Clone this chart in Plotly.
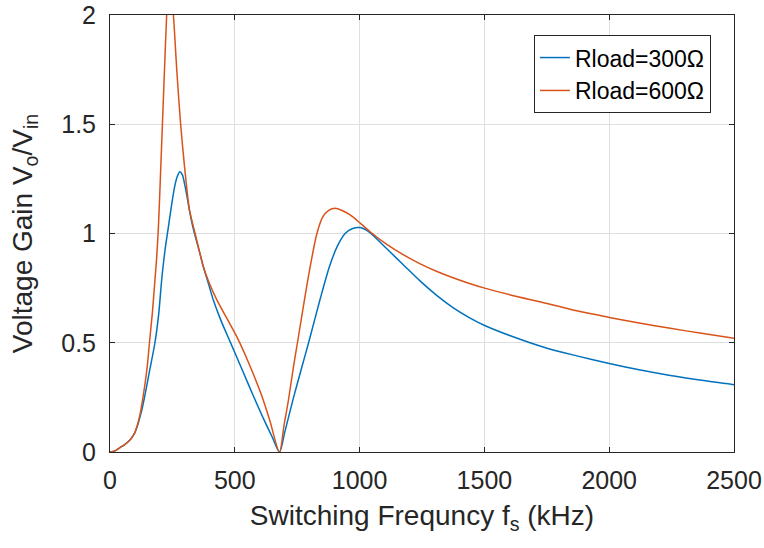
import plotly.graph_objects as go

# Rload = 300 ohm (blue)
f_300 = [0, 20, 40, 60, 80, 90, 100, 110, 120, 130, 140, 160, 180, 195, 207, 220, 234, 248, 260, 270, 280, 290, 300, 310,
         318, 330, 341, 360, 374, 394, 414, 440, 460, 485, 530, 575, 620, 650, 679,
         700, 732, 769, 798, 842, 879, 910, 942, 970, 1002, 1040, 1109, 1176, 1243, 1310, 1377, 1443,
         1501, 1604, 1751, 1870, 2000, 2120, 2245, 2370, 2500]
g_300 = [0, 0.005, 0.02, 0.035, 0.055, 0.07, 0.09, 0.12, 0.16, 0.205, 0.26, 0.38, 0.50, 0.63, 0.787, 0.92, 1.03, 1.14, 1.22, 1.262, 1.283, 1.268, 1.22, 1.16,
         1.108, 1.04, 0.99, 0.91, 0.848, 0.772, 0.696, 0.615, 0.56, 0.495, 0.375, 0.255, 0.14, 0.068, 0.0,
         0.09, 0.235, 0.39, 0.51, 0.70, 0.848, 0.94, 1.0, 1.022, 1.027, 1.005, 0.930, 0.856, 0.782, 0.716, 0.659, 0.613,
         0.579, 0.532, 0.475, 0.44, 0.405, 0.376, 0.350, 0.328, 0.308]

# Rload = 600 ohm (orange)
f_600 = [0, 20, 40, 60, 80, 90, 100, 110, 120, 130, 140, 150, 158, 170, 180, 187, 194, 202, 210, 218, 227, 237, 254, 268, 283, 300,
         318, 330, 341, 374, 398, 428, 470, 500, 521, 560, 608, 640, 679,
         697, 715, 735, 751, 779, 802, 829, 853, 875, 902, 930, 962, 1000, 1042, 1109, 1176, 1243, 1310, 1377, 1443,
         1501, 1604, 1751, 1870, 2000, 2120, 2245, 2370, 2500]
g_600 = [0, 0.005, 0.02, 0.035, 0.055, 0.07, 0.09, 0.125, 0.17, 0.235, 0.31, 0.40, 0.50, 0.64, 0.787, 0.89, 1.03, 1.26, 1.5, 1.74, 2.0, 2.22, 2.0, 1.74, 1.5, 1.29,
         1.11, 1.05, 1.0, 0.848, 0.772, 0.696, 0.608, 0.545, 0.497, 0.396, 0.257, 0.145, 0.0,
         0.12, 0.238, 0.39, 0.50, 0.696, 0.848, 1.0, 1.077, 1.105, 1.115, 1.105, 1.085, 1.05, 1.008, 0.950, 0.902, 0.861, 0.826, 0.796, 0.770,
         0.750, 0.719, 0.680, 0.646, 0.616, 0.59, 0.566, 0.543, 0.521]

x_ticks = [0, 500, 1000, 1500, 2000, 2500]
y_ticks = [0, 0.5, 1, 1.5, 2]
y_ticktext = ["0", "0.5", "1", "1.5", "2"]

AX = "#262626"
GRID = "#dfdfdf"
FONT = "Liberation Sans, Arial, sans-serif"

fig = go.Figure()
fig.add_trace(go.Scatter(x=f_300, y=g_300, mode="lines", name="Rload=300Ω",
                         line=dict(color="#0072BD", width=1.5, shape="spline", smoothing=0.8)))
fig.add_trace(go.Scatter(x=f_600, y=g_600, mode="lines", name="Rload=600Ω",
                         line=dict(color="#D95319", width=1.5, shape="spline", smoothing=0.8)))

fig.update_layout(
    width=764, height=548,
    margin=dict(l=110, r=30, t=15, b=96),
    paper_bgcolor="white", plot_bgcolor="white",
    font=dict(family=FONT, color=AX, size=25),
    showlegend=True,
    legend=dict(x=0.963, y=0.954, xanchor="right", yanchor="top",
                bgcolor="white", bordercolor=AX, borderwidth=1,
                font=dict(size=23, color="#000000"), tracegroupgap=0),
)
fig.update_xaxes(range=[0, 2500], tickvals=x_ticks, ticks="inside", ticklen=5, tickcolor=AX,
                 showline=True, linecolor=AX, linewidth=1, mirror="ticks",
                 showgrid=True, gridcolor=GRID, gridwidth=1, zeroline=False, automargin=False,
                 tickfont=dict(size=25), ticklabelstandoff=6,
                 title=dict(text="Switching Frequncy f<sub>s</sub> (kHz)", font=dict(size=28), standoff=12))
fig.update_yaxes(range=[0, 2], tickvals=y_ticks, ticktext=y_ticktext, ticks="inside", ticklen=5, tickcolor=AX,
                 showline=True, linecolor=AX, linewidth=1, mirror="ticks",
                 showgrid=True, gridcolor=GRID, gridwidth=1, zeroline=False, automargin=False,
                 tickfont=dict(size=25), ticklabelstandoff=8,
                 title=dict(text="Voltage Gain V<sub>o</sub>/V<sub>in</sub>", font=dict(size=28), standoff=20))

fig.write_html("out.html")
